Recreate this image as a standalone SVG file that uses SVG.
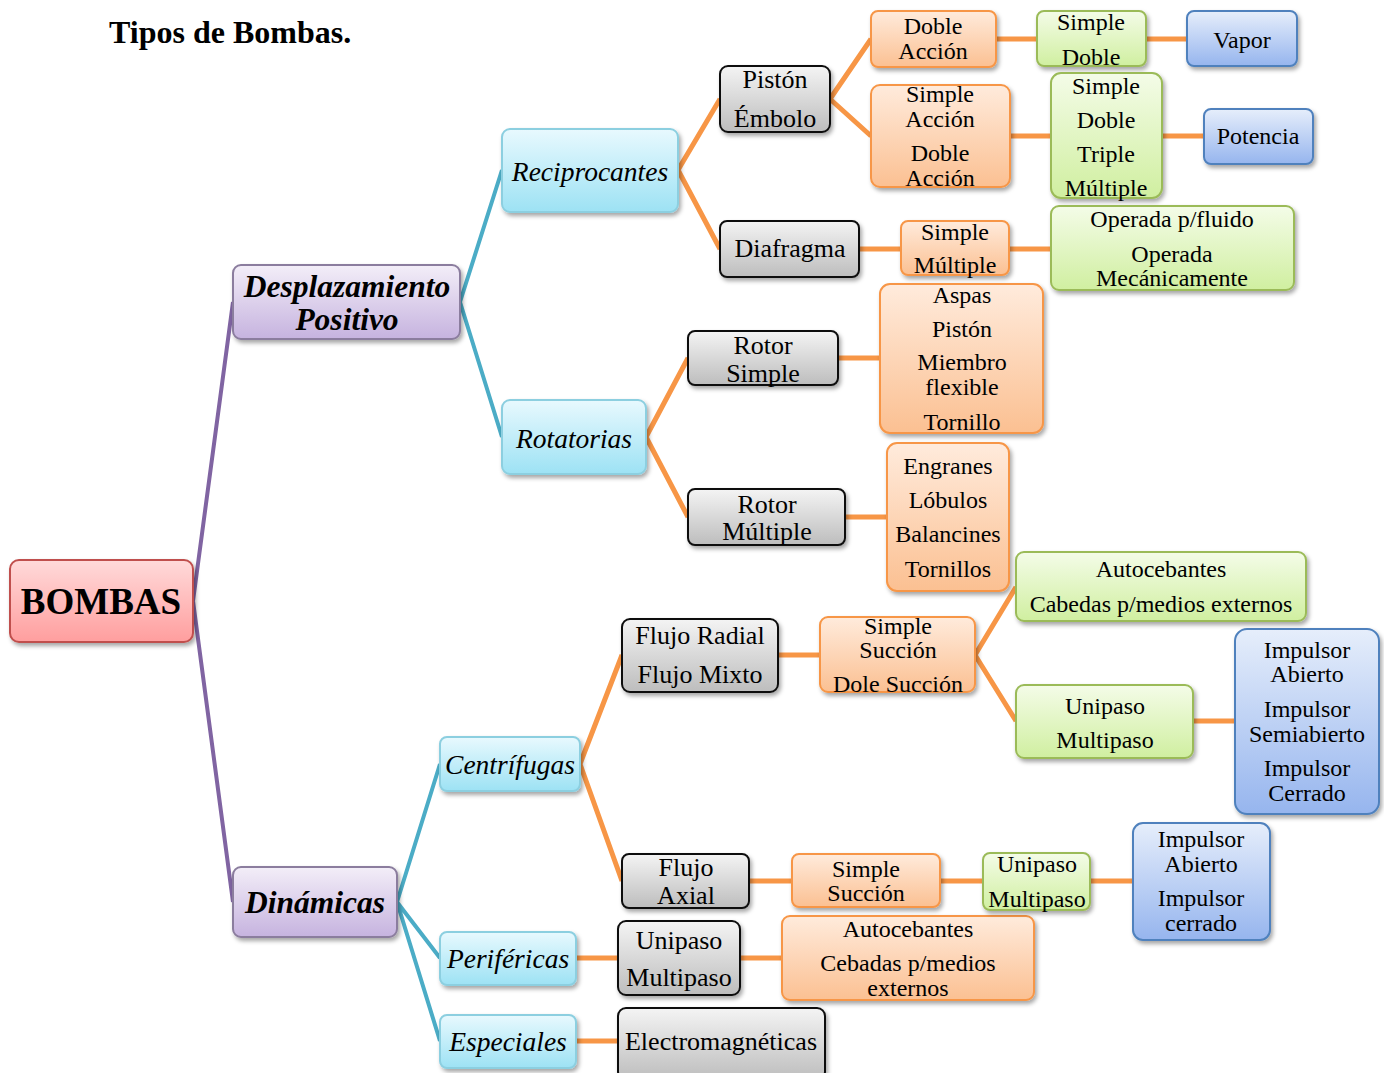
<svg xmlns="http://www.w3.org/2000/svg" width="1384" height="1073" viewBox="0 0 1384 1073">
<defs>
<linearGradient id="gRed" x1="0" y1="0" x2="0" y2="1"><stop offset="0" stop-color="#FFDADA"/><stop offset="1" stop-color="#FF9E9E"/></linearGradient>
<linearGradient id="gPur" x1="0" y1="0" x2="0" y2="1"><stop offset="0" stop-color="#F3EEF8"/><stop offset="1" stop-color="#C6B3DF"/></linearGradient>
<linearGradient id="gCya" x1="0" y1="0" x2="0" y2="1"><stop offset="0" stop-color="#E8F9FE"/><stop offset="1" stop-color="#9DE2F4"/></linearGradient>
<linearGradient id="gGry" x1="0" y1="0" x2="0" y2="1"><stop offset="0" stop-color="#F4F4F4"/><stop offset="1" stop-color="#BDBDBD"/></linearGradient>
<linearGradient id="gOra" x1="0" y1="0" x2="0" y2="1"><stop offset="0" stop-color="#FFEBDC"/><stop offset="1" stop-color="#FBC092"/></linearGradient>
<linearGradient id="gGrn" x1="0" y1="0" x2="0" y2="1"><stop offset="0" stop-color="#F4FCE8"/><stop offset="1" stop-color="#D0EFA0"/></linearGradient>
<linearGradient id="gBlu" x1="0" y1="0" x2="0" y2="1"><stop offset="0" stop-color="#E6EEFB"/><stop offset="1" stop-color="#96B5EE"/></linearGradient>
<filter id="sh" x="-10%" y="-10%" width="125%" height="130%"><feDropShadow dx="2" dy="3" stdDeviation="2" flood-color="#000" flood-opacity="0.35"/></filter>
</defs>
<style>
.n{filter:url(#sh);stroke-width:2}
.red{fill:url(#gRed);stroke:#C0504D}
.pur{fill:url(#gPur);stroke:#8B7D9E}
.cya{fill:url(#gCya);stroke:#8CCFE0}
.gry{fill:url(#gGry);stroke:#111}
.ora{fill:url(#gOra);stroke:#F79646}
.grn{fill:url(#gGrn);stroke:#9BBB59}
.blu{fill:url(#gBlu);stroke:#4F81BD}
text{font-family:"Liberation Serif","Times New Roman",serif;fill:#000;text-anchor:middle;dominant-baseline:central}
.t{font-size:24px}
.tg{font-size:26px}
.ti{font-size:27.5px;font-style:italic}
.tb{font-size:31.5px;font-style:italic;font-weight:bold}
.c{fill:none;stroke-linecap:butt}
.cp{stroke:#8064A2;stroke-width:4}
.cc{stroke:#4BACC6;stroke-width:4}
.co{stroke:#F79646;stroke-width:5}
</style>
<text x="109" y="32" style="font-size:32px;font-weight:bold;text-anchor:start">Tipos de Bombas.</text>
<g id="connectors" class="c">
<path class="c cp" d="M193,601 L233,302 M193,601 L233,902"/>
<path class="c cc" d="M460,302 L502,170 M460,302 L502,437 M397,902 L440,764 M397,902 L440,958 M397,902 L440,1041"/>
<path class="c co" d="M678,170 L720,99 M678,170 L720,249 M830,99 L871,39 M830,99 L871,136 M996,39 L1037,39 M1146,39 L1187,39 M1010,136 L1051,136 M1162,136 L1204,136 M859,249 L901,249 M1009,249 L1051,249 M646,437 L688,358 M646,437 L688,517 M838,358 L880,358 M845,517 L887,517 M580,764 L622,655 M580,764 L622,881 M778,655 L820,655 M975,655 L1016,587 M975,655 L1016,721 M1193,721 L1235,721 M749,881 L792,881 M940,881 L983,881 M1090,881 L1133,881 M576,958 L618,958 M740,958 L782,958 M576,1041 L618,1041"/>
</g>
<g id="bombas"><rect class="n red" x="10" y="560" width="183" height="82" rx="9"/><text x="101" y="601" style="font-size:37px;font-weight:bold">BOMBAS</text></g>
<g id="desplazamiento"><rect class="n pur" x="233" y="265" width="227" height="74" rx="8"/><text class="tb" x="347" y="286">Desplazamiento</text><text class="tb" x="347" y="319">Positivo</text></g>
<g id="dinamicas"><rect class="n pur" x="233" y="867" width="164" height="70" rx="8"/><text class="tb" x="315" y="902">Dinámicas</text></g>
<g id="reciprocantes"><rect class="n cya" x="502" y="129" width="176" height="83" rx="8"/><text class="ti" x="590" y="171">Reciprocantes</text></g>
<g id="rotatorias"><rect class="n cya" x="502" y="400" width="144" height="74" rx="8"/><text class="ti" x="574" y="438">Rotatorias</text></g>
<g id="centrifugas"><rect class="n cya" x="440" y="737" width="140" height="54" rx="7"/><text class="ti" x="510" y="764">Centrífugas</text></g>
<g id="perifericas"><rect class="n cya" x="440" y="932" width="136" height="53" rx="7"/><text class="ti" x="508" y="958">Periféricas</text></g>
<g id="especiales"><rect class="n cya" x="440" y="1015" width="136" height="53" rx="7"/><text class="ti" x="508" y="1041">Especiales</text></g>
<g id="piston"><rect class="n gry" x="720" y="66" width="110" height="66" rx="8"/><text class="tg" x="775" y="79">Pistón</text><text class="tg" x="775" y="118">Émbolo</text></g>
<g id="diafragma"><rect class="n gry" x="720" y="221" width="139" height="56" rx="7"/><text class="tg" x="790" y="248">Diafragma</text></g>
<g id="rotor-simple"><rect class="n gry" x="688" y="331" width="150" height="54" rx="7"/><text class="tg" x="763" y="345">Rotor</text><text class="tg" x="763" y="373">Simple</text></g>
<g id="rotor-multiple"><rect class="n gry" x="688" y="489" width="157" height="56" rx="7"/><text class="tg" x="767" y="504">Rotor</text><text class="tg" x="767" y="531">Múltiple</text></g>
<g id="flujo-radial"><rect class="n gry" x="622" y="619" width="156" height="73" rx="8"/><text class="tg" x="700" y="635">Flujo Radial</text><text class="tg" x="700" y="674">Flujo Mixto</text></g>
<g id="flujo-axial"><rect class="n gry" x="622" y="854" width="127" height="54" rx="7"/><text class="tg" x="686" y="867">Flujo</text><text class="tg" x="686" y="895">Axial</text></g>
<g id="unipaso-per"><rect class="n gry" x="618" y="921" width="122" height="74" rx="8"/><text class="tg" x="679" y="940">Unipaso</text><text class="tg" x="679" y="977">Multipaso</text></g>
<g id="electromagneticas"><rect class="n gry" x="618" y="1008" width="207" height="72" rx="8"/><text class="tg" x="721" y="1041">Electromagnéticas</text></g>
<g id="doble-accion"><rect class="n ora" x="871" y="11" width="125" height="56" rx="7"/><text class="t" x="933" y="26">Doble</text><text class="t" x="933" y="51">Acción</text></g>
<g id="simple-accion"><rect class="n ora" x="871" y="85" width="139" height="102" rx="9"/><text class="t" x="940" y="94">Simple</text><text class="t" x="940" y="119">Acción</text><text class="t" x="940" y="153">Doble</text><text class="t" x="940" y="178">Acción</text></g>
<g id="simple-multiple"><rect class="n ora" x="901" y="221" width="108" height="54" rx="7"/><text class="t" x="955" y="232">Simple</text><text class="t" x="955" y="265">Múltiple</text></g>
<g id="aspas"><rect class="n ora" x="880" y="284" width="163" height="149" rx="10"/><text class="t" x="962" y="295">Aspas</text><text class="t" x="962" y="329">Pistón</text><text class="t" x="962" y="362">Miembro</text><text class="t" x="962" y="387">flexible</text><text class="t" x="962" y="422">Tornillo</text></g>
<g id="engranes"><rect class="n ora" x="887" y="443" width="122" height="148" rx="10"/><text class="t" x="948" y="466">Engranes</text><text class="t" x="948" y="500">Lóbulos</text><text class="t" x="948" y="534">Balancines</text><text class="t" x="948" y="569">Tornillos</text></g>
<g id="simple-succion"><rect class="n ora" x="820" y="617" width="155" height="75" rx="8"/><text class="t" x="898" y="626">Simple</text><text class="t" x="898" y="650">Succión</text><text class="t" x="898" y="684">Dole Succión</text></g>
<g id="simple-succion-axial"><rect class="n ora" x="792" y="854" width="148" height="53" rx="7"/><text class="t" x="866" y="869">Simple</text><text class="t" x="866" y="893">Succión</text></g>
<g id="autocebantes-per"><rect class="n ora" x="782" y="916" width="252" height="84" rx="8"/><text class="t" x="908" y="929">Autocebantes</text><text class="t" x="908" y="963">Cebadas p/medios</text><text class="t" x="908" y="988">externos</text></g>
<g id="simple-doble"><rect class="n grn" x="1037" y="11" width="109" height="55" rx="7"/><text class="t" x="1091" y="22">Simple</text><text class="t" x="1091" y="57">Doble</text></g>
<g id="simple-doble-triple"><rect class="n grn" x="1051" y="73" width="111" height="125" rx="10"/><text class="t" x="1106" y="86">Simple</text><text class="t" x="1106" y="120">Doble</text><text class="t" x="1106" y="154">Triple</text><text class="t" x="1106" y="188">Múltiple</text></g>
<g id="operada"><rect class="n grn" x="1051" y="206" width="243" height="84" rx="8"/><text class="t" x="1172" y="219">Operada p/fluido</text><text class="t" x="1172" y="254">Operada</text><text class="t" x="1172" y="278">Mecánicamente</text></g>
<g id="autocebantes-cen"><rect class="n grn" x="1016" y="552" width="290" height="69" rx="8"/><text class="t" x="1161" y="569">Autocebantes</text><text class="t" x="1161" y="604">Cabedas p/medios externos</text></g>
<g id="unipaso-cen"><rect class="n grn" x="1016" y="685" width="177" height="73" rx="8"/><text class="t" x="1105" y="706">Unipaso</text><text class="t" x="1105" y="740">Multipaso</text></g>
<g id="unipaso-axial"><rect class="n grn" x="983" y="853" width="107" height="57" rx="7"/><text class="t" x="1037" y="864">Unipaso</text><text class="t" x="1037" y="899">Multipaso</text></g>
<g id="vapor"><rect class="n blu" x="1187" y="11" width="110" height="55" rx="7"/><text class="t" x="1242" y="40">Vapor</text></g>
<g id="potencia"><rect class="n blu" x="1204" y="109" width="109" height="55" rx="7"/><text class="t" x="1258" y="136">Potencia</text></g>
<g id="impulsor-cen"><rect class="n blu" x="1235" y="629" width="144" height="185" rx="12"/><text class="t" x="1307" y="650">Impulsor</text><text class="t" x="1307" y="674">Abierto</text><text class="t" x="1307" y="709">Impulsor</text><text class="t" x="1307" y="734">Semiabierto</text><text class="t" x="1307" y="768">Impulsor</text><text class="t" x="1307" y="793">Cerrado</text></g>
<g id="impulsor-axial"><rect class="n blu" x="1133" y="823" width="137" height="117" rx="10"/><text class="t" x="1201" y="839">Impulsor</text><text class="t" x="1201" y="864">Abierto</text><text class="t" x="1201" y="898">Impulsor</text><text class="t" x="1201" y="923">cerrado</text></g>
</svg>
